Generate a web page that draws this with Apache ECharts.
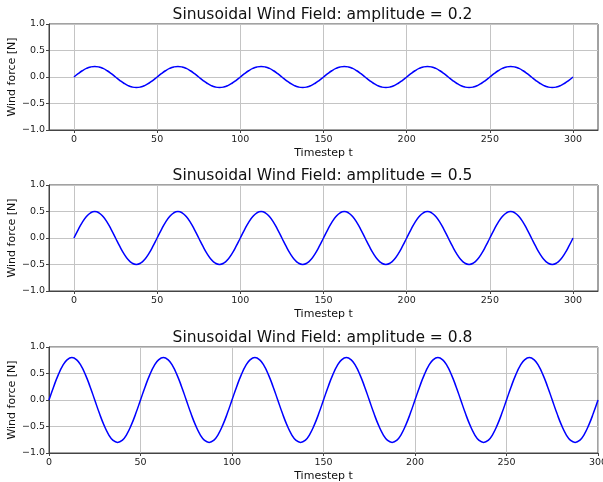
<!DOCTYPE html>
<html>
<head>
<meta charset="utf-8">
<script src="https://cdn.jsdelivr.net/npm/echarts@6/dist/echarts.min.js"></script>
<style>
html,body{margin:0;padding:0;background:#fff;}
#c{width:603px;height:482px;}
</style>
</head>
<body>
<div id="c"></div>
<script>
const titles = [
  'Sinusoidal Wind Field: amplitude = 0.2',
  'Sinusoidal Wind Field: amplitude = 0.5',
  'Sinusoidal Wind Field: amplitude = 0.8'
];
const xTicks = [0, 50, 100, 150, 200, 250, 300];
const yTicks = [-1.0, -0.5, 0.0, 0.5, 1.0];
const timesteps = [
  0,2.5,5,7.5,10,12.5,15,17.5,20,22.5,25,27.5,30,32.5,35,37.5,40,42.5,45,47.5,
  50,52.5,55,57.5,60,62.5,65,67.5,70,72.5,75,77.5,80,82.5,85,87.5,90,92.5,95,97.5,
  100,102.5,105,107.5,110,112.5,115,117.5,120,122.5,125,127.5,130,132.5,135,137.5,140,142.5,145,147.5,
  150,152.5,155,157.5,160,162.5,165,167.5,170,172.5,175,177.5,180,182.5,185,187.5,190,192.5,195,197.5,
  200,202.5,205,207.5,210,212.5,215,217.5,220,222.5,225,227.5,230,232.5,235,237.5,240,242.5,245,247.5,
  250,252.5,255,257.5,260,262.5,265,267.5,270,272.5,275,277.5,280,282.5,285,287.5,290,292.5,295,297.5,
  300
];
const force02 = [
  0,0.062,0.118,0.162,0.190,0.200,0.190,0.162,0.118,0.062,0,-0.062,-0.118,-0.162,-0.190,-0.200,-0.190,-0.162,-0.118,-0.062,
  0,0.062,0.118,0.162,0.190,0.200,0.190,0.162,0.118,0.062,0,-0.062,-0.118,-0.162,-0.190,-0.200,-0.190,-0.162,-0.118,-0.062,
  0,0.062,0.118,0.162,0.190,0.200,0.190,0.162,0.118,0.062,0,-0.062,-0.118,-0.162,-0.190,-0.200,-0.190,-0.162,-0.118,-0.062,
  0,0.062,0.118,0.162,0.190,0.200,0.190,0.162,0.118,0.062,0,-0.062,-0.118,-0.162,-0.190,-0.200,-0.190,-0.162,-0.118,-0.062,
  0,0.062,0.118,0.162,0.190,0.200,0.190,0.162,0.118,0.062,0,-0.062,-0.118,-0.162,-0.190,-0.200,-0.190,-0.162,-0.118,-0.062,
  0,0.062,0.118,0.162,0.190,0.200,0.190,0.162,0.118,0.062,0,-0.062,-0.118,-0.162,-0.190,-0.200,-0.190,-0.162,-0.118,-0.062,
  0
];
const force05 = [
  0,0.155,0.294,0.405,0.476,0.500,0.476,0.405,0.294,0.155,0,-0.155,-0.294,-0.405,-0.476,-0.500,-0.476,-0.405,-0.294,-0.155,
  0,0.155,0.294,0.405,0.476,0.500,0.476,0.405,0.294,0.155,0,-0.155,-0.294,-0.405,-0.476,-0.500,-0.476,-0.405,-0.294,-0.155,
  0,0.155,0.294,0.405,0.476,0.500,0.476,0.405,0.294,0.155,0,-0.155,-0.294,-0.405,-0.476,-0.500,-0.476,-0.405,-0.294,-0.155,
  0,0.155,0.294,0.405,0.476,0.500,0.476,0.405,0.294,0.155,0,-0.155,-0.294,-0.405,-0.476,-0.500,-0.476,-0.405,-0.294,-0.155,
  0,0.155,0.294,0.405,0.476,0.500,0.476,0.405,0.294,0.155,0,-0.155,-0.294,-0.405,-0.476,-0.500,-0.476,-0.405,-0.294,-0.155,
  0,0.155,0.294,0.405,0.476,0.500,0.476,0.405,0.294,0.155,0,-0.155,-0.294,-0.405,-0.476,-0.500,-0.476,-0.405,-0.294,-0.155,
  0
];
const force08 = [
  0,0.247,0.470,0.647,0.761,0.800,0.761,0.647,0.470,0.247,0,-0.247,-0.470,-0.647,-0.761,-0.800,-0.761,-0.647,-0.470,-0.247,
  0,0.247,0.470,0.647,0.761,0.800,0.761,0.647,0.470,0.247,0,-0.247,-0.470,-0.647,-0.761,-0.800,-0.761,-0.647,-0.470,-0.247,
  0,0.247,0.470,0.647,0.761,0.800,0.761,0.647,0.470,0.247,0,-0.247,-0.470,-0.647,-0.761,-0.800,-0.761,-0.647,-0.470,-0.247,
  0,0.247,0.470,0.647,0.761,0.800,0.761,0.647,0.470,0.247,0,-0.247,-0.470,-0.647,-0.761,-0.800,-0.761,-0.647,-0.470,-0.247,
  0,0.247,0.470,0.647,0.761,0.800,0.761,0.647,0.470,0.247,0,-0.247,-0.470,-0.647,-0.761,-0.800,-0.761,-0.647,-0.470,-0.247,
  0,0.247,0.470,0.647,0.761,0.800,0.761,0.647,0.470,0.247,0,-0.247,-0.470,-0.647,-0.761,-0.800,-0.761,-0.647,-0.470,-0.247,
  0
];
const seriesList = [force02, force05, force08];
const xRanges = [[-15, 315], [-15, 315], [0, 300]];

const FONT = 'DejaVu Sans';
const gridTops = [24, 185, 347];
const gridH = 106;

const fmtY = v => (v < 0 ? '\u2212' : '') + Math.abs(v).toFixed(1);

const option = {
  animation: false,
  backgroundColor: '#fff',
  title: titles.map((t, i) => ({
    text: t,
    left: 317.5,
    textAlign: 'center',
    top: gridTops[i] - 22,
    textStyle: {fontFamily: FONT, fontSize: 15.5, fontWeight: 'normal', color: '#111'}
  })),
  grid: gridTops.map(t => ({
    left: 49, right: 5, top: t, height: gridH,
    outerBoundsMode: 'none', containLabel: false,
    show: true, borderColor: '#444', borderWidth: 1, backgroundColor: 'transparent'
  })),
  xAxis: xRanges.map((r, i) => ({
    type: 'value', gridIndex: i, min: r[0], max: r[1],
    name: 'Timestep t', nameLocation: 'middle', nameGap: 18, nameMoveOverlap: false,
    nameTextStyle: {fontFamily: FONT, fontSize: 11, color: '#111'},
    axisLine: {show: true, onZero: false, lineStyle: {color: '#444', width: 1}},
    axisTick: {show: true, inside: false, length: 3, customValues: xTicks, lineStyle: {color: '#444'}},
    axisLabel: {show: true, customValues: xTicks, margin: 5, fontFamily: FONT, fontSize: 9.5, color: '#222'},
    splitLine: {show: true, lineStyle: {color: '#c4c4c4', width: 1}}
  })),
  yAxis: [0, 1, 2].map(i => ({
    type: 'value', gridIndex: i, min: -1, max: 1, interval: 0.5,
    name: 'Wind force [N]', nameLocation: 'middle', nameGap: 31, nameMoveOverlap: false,
    nameTextStyle: {fontFamily: FONT, fontSize: 11, color: '#111'},
    axisLine: {show: true, onZero: false, lineStyle: {color: '#444', width: 1}},
    axisTick: {show: true, inside: false, length: 3, lineStyle: {color: '#444'}},
    axisLabel: {show: true, margin: 4, fontFamily: FONT, fontSize: 9.5, color: '#222', formatter: fmtY},
    splitLine: {show: true, lineStyle: {color: '#c4c4c4', width: 1}}
  })),
  series: seriesList.map((s, i) => ({
    type: 'line', xAxisIndex: i, yAxisIndex: i,
    data: timesteps.map((t, k) => [t, s[k]]),
    showSymbol: false, smooth: true,
    lineStyle: {color: '#0000ff', width: 1.5},
    clip: false
  }))
};

const chart = echarts.init(document.getElementById('c'), null, {renderer: 'canvas'});
chart.setOption(option);
</script>
</body>
</html>
